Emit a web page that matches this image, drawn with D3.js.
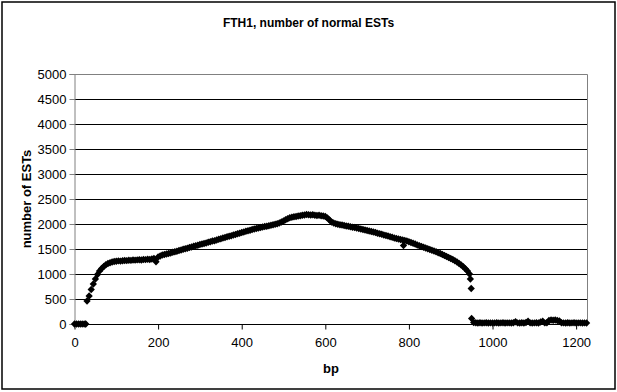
<!DOCTYPE html>
<html>
<head>
<meta charset="utf-8">
<script src="https://cdn.jsdelivr.net/npm/d3@7"></script>
<style>
  html, body { margin: 0; padding: 0; background: #fff; }
  svg { display: block; font-family: "Liberation Sans", Arial, sans-serif; }
</style>
</head>
<body>
<svg id="chart" width="617" height="392"></svg>
<script>
// FTH1 normal EST coverage per base pair position
const chartTitle = "FTH1, number of normal ESTs";
const xTitle = "bp";
const yTitle = "number of ESTs";

const xTicks = [0, 200, 400, 600, 800, 1000, 1200];
const yTicks = [0, 500, 1000, 1500, 2000, 2500, 3000, 3500, 4000, 4500, 5000];

// coverage sampled every 5 bp, starting at bp 0
const sampleStep = 5;
const estCounts = [
  0, 0, 0, 0, 0, 0, 460, 560, 690, 800,
  900, 990, 1060, 1110, 1150, 1185, 1210, 1225, 1240, 1250,
  1255, 1262, 1258, 1265, 1270, 1268, 1275, 1272, 1280, 1276,
  1282, 1285, 1280, 1290, 1288, 1295, 1290, 1300, 1310, 1245,
  1340, 1360, 1380, 1390, 1400, 1410, 1420, 1435, 1445, 1455,
  1470, 1480, 1495, 1505, 1515, 1530, 1540, 1555, 1565, 1575,
  1590, 1600, 1610, 1620, 1635, 1645, 1660, 1665, 1680, 1695,
  1705, 1720, 1730, 1745, 1755, 1765, 1780, 1790, 1805, 1815,
  1830, 1840, 1855, 1865, 1875, 1890, 1900, 1910, 1920, 1930,
  1940, 1950, 1955, 1965, 1975, 1985, 1995, 2005, 2020, 2040,
  2060, 2085, 2105, 2125, 2135, 2145, 2150, 2160, 2165, 2175,
  2180, 2190, 2185, 2180, 2185, 2175, 2170, 2175, 2165, 2160,
  2150, 2120, 2080, 2040, 2020, 2005, 1995, 1985, 1980, 1970,
  1960, 1955, 1945, 1935, 1930, 1920, 1910, 1900, 1890, 1880,
  1870, 1860, 1850, 1840, 1830, 1815, 1805, 1795, 1780, 1770,
  1760, 1745, 1735, 1720, 1710, 1700, 1690, 1680, 1670, 1660,
  1645, 1630, 1615, 1600, 1580, 1565, 1550, 1535, 1520, 1505,
  1490, 1475, 1460, 1445, 1425, 1410, 1390, 1370, 1350, 1330,
  1310, 1290, 1265, 1240, 1210, 1180, 1145, 1105, 1060, 1000,
  110, 30, 25, 20, 25, 20, 22, 25, 20, 24,
  20, 22, 25, 20, 22, 25, 20, 24, 22, 20,
  25, 45, 22, 20, 25, 20, 30, 55, 24, 20,
  22, 25, 20, 40, 55, 22, 25, 70, 80, 75,
  80, 70, 60, 25, 22, 20, 25, 20, 22, 25,
  20, 22, 24, 20, 22, 20
];

// isolated readings between the regular samples
const extraBp = [27, 787, 947, 949];
const extraCounts = [0, 1570, 900, 710];

const points = estCounts.map((v, i) => ({ bp: i * sampleStep, v }))
  .concat(extraBp.map((b, i) => ({ bp: b, v: extraCounts[i] })));

const svg = d3.select("#chart");
const W = 617, H = 392;
const plot = { left: 74.5, right: 587, top: 74, bottom: 324 };

const x = d3.scaleLinear().domain([0, 1226]).range([plot.left, plot.right]);
const y = d3.scaleLinear().domain([0, 5000]).range([plot.bottom, plot.top]);

// outer chart frame
svg.append("rect")
  .attr("x", 2).attr("y", 2).attr("width", W - 4).attr("height", H - 5)
  .attr("fill", "#fff").attr("stroke", "#000").attr("stroke-width", 1.5);

// horizontal gridlines
svg.append("g")
  .selectAll("line")
  .data(yTicks.filter(t => t > 0 && t < 5000))
  .join("line")
  .attr("x1", plot.left).attr("x2", plot.right)
  .attr("y1", d => Math.round(y(d)) + 0.5).attr("y2", d => Math.round(y(d)) + 0.5)
  .attr("stroke", "#000").attr("stroke-width", 1);

// plot area border (top and right)
svg.append("path")
  .attr("d", `M${plot.left},${plot.top + 0.5}H${plot.right + 0.5}V${plot.bottom}`)
  .attr("fill", "none").attr("stroke", "#808080").attr("stroke-width", 1);

// y axis
const yAxis = d3.axisLeft(y).tickValues(yTicks).tickSize(5).tickPadding(3)
  .tickFormat(d3.format("d"));
const gy = svg.append("g").attr("transform", `translate(${plot.left},0)`).call(yAxis);
gy.select(".domain").attr("stroke", "#808080");
gy.selectAll(".tick line").attr("stroke", "#808080");
gy.selectAll("text").attr("font-size", 13).attr("fill", "#000")
  .attr("font-family", "Liberation Sans, Arial, sans-serif");

// x axis
const xAxis = d3.axisBottom(x).tickValues(xTicks).tickSize(5).tickPadding(8)
  .tickFormat(d3.format("d"));
const gx = svg.append("g").attr("transform", `translate(0,${plot.bottom + 0.5})`).call(xAxis);
gx.select(".domain").attr("stroke", "#000").attr("d", `M${plot.left},0H${plot.right + 0.5}`);
gx.selectAll(".tick line").attr("stroke", "#000");
gx.selectAll("text").attr("font-size", 13).attr("fill", "#000")
  .attr("font-family", "Liberation Sans, Arial, sans-serif");

// data markers: filled diamonds
const diamond = d3.symbol().type(d3.symbolDiamond2).size(34);
svg.append("g")
  .selectAll("path")
  .data(points)
  .join("path")
  .attr("d", diamond)
  .attr("transform", d => `translate(${x(d.bp)},${y(d.v)})`)
  .attr("fill", "#000");

// titles
svg.append("text")
  .attr("x", 308.5).attr("y", 27)
  .attr("text-anchor", "middle")
  .attr("font-size", 12).attr("font-weight", "bold")
  .text(chartTitle);

svg.append("text")
  .attr("x", 331).attr("y", 373)
  .attr("text-anchor", "middle")
  .attr("font-size", 13).attr("font-weight", "bold")
  .text(xTitle);

svg.append("text")
  .attr("transform", `translate(31,${(plot.top + plot.bottom) / 2}) rotate(-90)`)
  .attr("text-anchor", "middle")
  .attr("font-size", 13).attr("font-weight", "bold")
  .text(yTitle);
</script>
</body>
</html>
